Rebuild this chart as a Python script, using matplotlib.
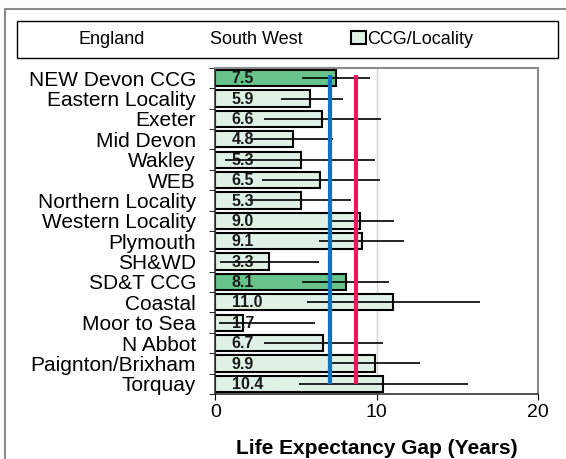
import matplotlib
matplotlib.use('Agg')
import matplotlib.pyplot as plt
import numpy as np
from matplotlib.lines import Line2D
from matplotlib.patches import Patch, Rectangle

plt.rcParams['font.family'] = ['Liberation Sans', 'DejaVu Sans']

# data
areas = ['NEW Devon CCG', 'Eastern Locality', 'Exeter', 'Mid Devon', 'Wakley',
         'WEB', 'Northern Locality', 'Western Locality', 'Plymouth', 'SH&WD',
         'SD&T CCG', 'Coastal', 'Moor to Sea', 'N Abbot', 'Paignton/Brixham',
         'Torquay']
gap = [7.5, 5.9, 6.6, 4.8, 5.3, 6.5, 5.3, 9.0, 9.1, 3.3, 8.1, 11.0, 1.7, 6.7,
       9.9, 10.4]
ci_low = [5.4, 4.1, 3.0, 2.2, 0.6, 2.9, 2.2, 7.2, 6.4, 0.3, 5.4, 5.7, 0.2, 3.0,
          7.2, 5.2]
ci_high = [9.6, 7.9, 10.3, 7.3, 9.9, 10.2, 8.4, 11.1, 11.7, 6.4, 10.8, 16.4,
           6.2, 10.4, 12.7, 15.7]
is_ccg = [True, False, False, False, False, False, False, False, False, False,
          True, False, False, False, False, False]
england = 7.1
south_west = 8.7

fig = plt.figure(figsize=(5.66, 4.59), dpi=100)
ax = fig.add_axes([0.3807, 0.1416, 0.569, 0.7103])

y = np.arange(len(areas))
colors = ['#67c38a' if c else '#dff0e4' for c in is_ccg]
ax.barh(y, gap, height=0.8, color=colors, edgecolor='black', linewidth=1.5, zorder=2)

for yi, v in zip(y, gap):
    ax.text(1.0, yi + 0.03, f'{v:.1f}', ha='left', va='center', fontsize=11.5,
            fontweight='bold', color='#1a1a1a', zorder=3)

ax.hlines(y, ci_low, ci_high, color='black', linewidth=1.2, zorder=4)

ax.vlines(england, -0.16, len(areas) - 1, color='#0f74c4', linewidth=3, zorder=5)
ax.vlines(south_west, -0.16, len(areas) - 1, color='#e8185a', linewidth=3, zorder=5)

ax.set_xlim(0, 20)
ax.set_ylim(len(areas) - 0.5, -0.5)
ax.set_xticks([0, 10, 20])
ax.tick_params(axis='x', labelsize=14, length=4, pad=3, direction='out')
ax.xaxis.grid(True, color='#d4d4d4', linewidth=1, zorder=0)
ax.set_axisbelow(True)

ax.set_yticks(y)
ax.set_yticklabels(areas, fontsize=15)
ax.tick_params(axis='y', which='major', length=0, pad=14)
ax.set_yticks(np.arange(-0.5, len(areas)), minor=True)
ax.tick_params(axis='y', which='minor', length=4, direction='out')

for side in ('top', 'right'):
    ax.spines[side].set_color('#8c8c8c')
    ax.spines[side].set_linewidth(1.5)
for side in ('left', 'bottom'):
    ax.spines[side].set_color('#333333')
    ax.spines[side].set_linewidth(1.2)

ax.set_xlabel('Life Expectancy Gap (Years)', fontsize=15, fontweight='bold',
              labelpad=13)

# legend: the two reference lines show only their names
handles = [Line2D([], [], color='none'),
           Line2D([], [], color='none'),
           Patch(facecolor='#dff0e4', edgecolor='black', linewidth=1.5)]
fig.legend(handles, ['England', 'South West', 'CCG/Locality'], ncol=3,
           loc='center', bbox_to_anchor=(268 / 566, 1 - 39.5 / 459),
           frameon=False, fontsize=13, handlelength=0.8, handleheight=0.7,
           handletextpad=0.1, columnspacing=2.7, borderaxespad=0,
           borderpad=0)

# legend frame and chart-area border
fig.patches.append(Rectangle((17 / 566, 1 - 58 / 459), 541 / 566, 37 / 459,
                             transform=fig.transFigure, fill=False,
                             edgecolor='black', linewidth=1.0))
fig.patches.append(Rectangle((5 / 566, -0.1), 1.2, 0.98 + 0.1,
                             transform=fig.transFigure, fill=False,
                             edgecolor='#8c8c8c', linewidth=1.5))

fig.savefig('out.png', dpi=100)
